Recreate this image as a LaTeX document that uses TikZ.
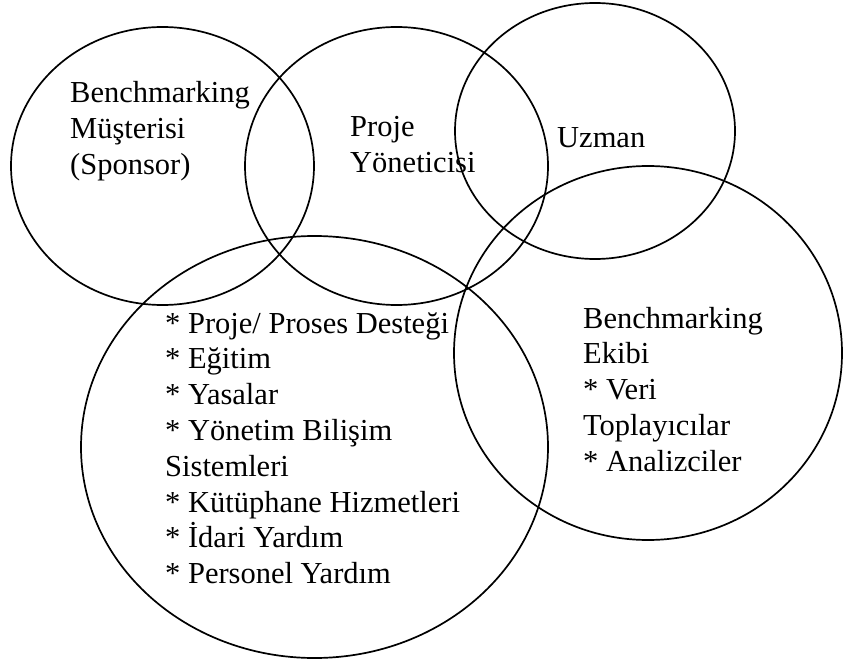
\documentclass[tikz,border=0pt]{standalone}
\usepackage{fontspec}
\setmainfont{Liberation Serif}
\usetikzlibrary{shapes.geometric}

% stacked lines whose reference point is the first baseline
\newcommand{\stackedlines}[1]{\begin{tabular}[t]{@{}l@{}}#1\end{tabular}}
% bullet asterisk, braced so that a preceding \\ does not take it as \\*
\newcommand{\bul}{{*}~}

\begin{document}
\begin{tikzpicture}[x=1pt, y=-1pt,
  role/.style={draw=black, line width=1.7pt, shape=ellipse, inner sep=0pt},
  label/.style={anchor=base west, inner sep=0pt, align=left,
    font=\fontsize{30.5}{35.8}\selectfont}]
  \useasboundingbox (0,0) rectangle (843,663);

  % overlapping role ellipses
  \node[role, minimum width=303pt, minimum height=278pt] (sponsor) at (162.5,166) {};
  \node[role, minimum width=303pt, minimum height=278pt] (manager) at (396.5,166) {};
  \node[role, minimum width=280pt, minimum height=256pt] (expert)  at (595,131) {};
  \node[role, minimum width=388pt, minimum height=374pt] (team)    at (648,353) {};
  \node[role, minimum width=467pt, minimum height=422pt] (support) at (314.5,447) {};

  % labels
  \node[label] (sponsortext) at (70,103)
    {\stackedlines{Benchmarking\\Müşterisi\\(Sponsor)}};
  \node[label] (managertext) at (350,137)
    {\stackedlines{Proje\\Yöneticisi}};
  \node[label] (experttext) at (557,148) {Uzman};
  \node[label] (teamtext) at (583,328)
    {\stackedlines{Benchmarking\\Ekibi\\\bul Veri\\Toplayıcılar\\\bul Analizciler}};
  \node[label] (supporttext) at (165,333)
    {\stackedlines{\bul Proje/ Proses Desteği\\\bul Eğitim\\\bul Yasalar\\\bul Yönetim Bilişim\\Sistemleri\\\bul Kütüphane Hizmetleri\\\bul İdari Yardım\\\bul Personel Yardım}};
\end{tikzpicture}
\end{document}
